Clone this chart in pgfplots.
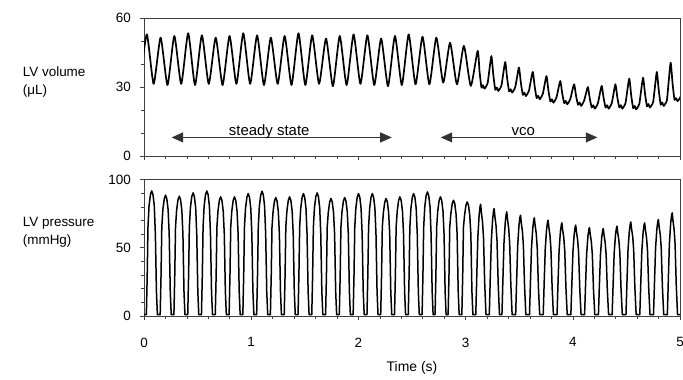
\documentclass[border=0pt]{standalone}
\usepackage{pgfplots}
\pgfplotsset{compat=1.18}
\usepackage{fontspec}
\setmainfont{Liberation Sans}
\usetikzlibrary{arrows.meta}
\pgfplotsset{
  lvstyle/.style={
    scale only axis, width=536bp,
    xmin=0, xmax=5,
    xtick={0,1,2,3,4,5}, minor x tick num=4,
    axis line style={black!75, line width=0.8bp},
    tick style={black!75, line width=0.6bp},
    tick align=outside, xtick pos=left, ytick pos=left,
    major tick length=4bp, minor tick length=3bp,
    /pgf/number format/assume math mode=true,
    ticklabel style={font=\fontsize{13.5}{16}\selectfont},
    yticklabel shift=4.5bp,
    clip=true,
  },
  trace/.style={black, line width=1.5bp, line join=round, mark=none},
}
\begin{document}
\fontsize{13.5}{16}\selectfont%
\begin{tikzpicture}
\useasboundingbox (0,0) rectangle (683bp,-380bp);
% ---------------- LV volume ----------------
\begin{axis}[lvstyle, at={(144bp,-18.3bp)}, anchor=north west,
  height=138bp, ymin=0, ymax=60, ytick={0,30,60}, minor y tick num=2,
  xticklabels={}]
\addplot[trace, line width=1.7bp, smooth, tension=0.35] coordinates {
(-0.038,31.5)
(0.026,53.0) (0.090,31.5)
(0.155,51.6) (0.219,31.0)
(0.283,52.3) (0.347,31.5)
(0.412,53.5) (0.476,31.0)
(0.540,52.6) (0.604,31.5)
(0.669,51.6) (0.733,31.0)
(0.798,52.3) (0.862,31.5)
(0.926,53.5) (0.990,31.5)
(1.055,52.6) (1.119,31.0)
(1.183,51.6) (1.247,31.5)
(1.312,52.3) (1.376,31.0)
(1.441,53.5) (1.505,31.0)
(1.569,52.6) (1.633,31.5)
(1.698,51.2) (1.762,30.5)
(1.826,52.3) (1.890,31.0)
(1.955,53.0) (2.019,31.5)
(2.084,52.6) (2.148,31.0)
(2.212,51.2) (2.276,30.5)
(2.341,52.3) (2.405,31.0)
(2.469,53.0) (2.533,31.3)
(2.598,52.0) (2.662,31.3)
(2.727,51.6) (2.791,32.0)
(2.855,49.4) (2.919,31.3)
(2.984,48.0) (3.048,30.6)
(3.112,45.8) (3.130,36.8) (3.148,29.9) (3.162,30.9) (3.176,29.4) (3.191,30.4) (3.206,31.9) (3.223,38.0)
(3.241,43.6) (3.259,35.2) (3.277,28.9) (3.291,29.9) (3.305,28.4) (3.320,29.4) (3.335,30.9) (3.352,36.2)
(3.370,41.0) (3.388,33.7) (3.406,28.2) (3.420,29.2) (3.434,27.7) (3.449,28.7) (3.464,30.2) (3.481,34.7)
(3.498,38.6) (3.516,31.8) (3.534,26.7) (3.548,27.7) (3.562,26.2) (3.577,27.2) (3.592,28.7) (3.609,33.0)
(3.627,36.7) (3.645,30.2) (3.663,25.3) (3.677,26.3) (3.691,24.8) (3.706,25.8) (3.721,27.3) (3.738,31.4)
(3.755,34.9) (3.773,28.5) (3.791,23.8) (3.805,24.8) (3.819,23.3) (3.834,24.3) (3.849,25.8) (3.866,29.5)
(3.884,32.7) (3.902,27.2) (3.920,23.1) (3.934,24.1) (3.948,22.6) (3.963,23.6) (3.978,25.1) (3.995,28.5)
(4.013,31.3) (4.031,26.1) (4.049,22.4) (4.063,23.4) (4.077,21.9) (4.092,22.9) (4.107,24.4) (4.124,27.5)
(4.141,30.1) (4.159,24.9) (4.177,21.2) (4.191,22.2) (4.205,20.7) (4.220,21.7) (4.235,23.2) (4.252,27.2)
(4.270,30.6) (4.288,25.2) (4.306,21.2) (4.320,22.2) (4.334,20.7) (4.349,21.7) (4.364,23.2) (4.381,27.5)
(4.398,31.3) (4.416,25.5) (4.434,21.2) (4.448,22.2) (4.462,20.7) (4.477,21.7) (4.492,23.2) (4.509,28.8)
(4.527,33.8) (4.545,26.4) (4.563,20.9) (4.577,21.9) (4.591,20.4) (4.606,21.4) (4.621,22.9) (4.638,28.8)
(4.656,34.2) (4.674,27.1) (4.692,21.7) (4.706,22.7) (4.720,21.2) (4.735,22.2) (4.750,23.7) (4.767,30.5)
(4.784,36.7) (4.802,28.6) (4.820,22.4) (4.834,23.4) (4.848,21.9) (4.863,22.9) (4.878,24.4) (4.895,32.8)
(4.913,40.7) (4.931,31.5) (4.949,24.5) (4.963,25.3) (4.977,24.0) (4.992,24.8) (5.007,26.0)
};
\draw[black!80, line width=1bp, {Triangle[length=11.5bp,width=10bp]}-{Triangle[length=11.5bp,width=10bp]}]
  (axis cs:0.258,8.2) -- (axis cs:2.311,8.2);
\draw[black!80, line width=1bp, {Triangle[length=11.5bp,width=10bp]}-{Triangle[length=11.5bp,width=10bp]}]
  (axis cs:2.768,8.2) -- (axis cs:4.229,8.2);
\node[anchor=base, inner sep=0pt, font=\fontsize{15}{18}\selectfont] at (axis cs:1.168,9.0) {steady state};
\node[anchor=base, inner sep=0pt, font=\fontsize{15}{18}\selectfont] at (axis cs:3.538,9.0) {vco};
\end{axis}
% ---------------- LV pressure ----------------
\begin{axis}[lvstyle, at={(144bp,-179.5bp)}, anchor=north west,
  height=136.5bp, ymin=0, ymax=100, ytick={0,50,100}, minor y tick num=4,
  xticklabel shift=13bp]
\addplot[trace] coordinates {
(0,1)
(0.022,1) (0.030,30) (0.037,65) (0.047,80.6) (0.060,88.9) (0.072,91.6) (0.084,88.9) (0.096,80.6) (0.106,60) (0.116,18) (0.125,1)
(0.151,1) (0.159,30) (0.166,65) (0.176,77.9) (0.189,85.8) (0.201,88.5) (0.213,85.8) (0.225,77.9) (0.235,60) (0.245,18) (0.254,1)
(0.279,1) (0.287,30) (0.294,65) (0.304,77.3) (0.317,85.2) (0.329,87.8) (0.341,85.2) (0.353,77.3) (0.363,60) (0.373,18) (0.382,1)
(0.408,1) (0.416,30) (0.423,65) (0.433,79.4) (0.446,87.5) (0.458,90.2) (0.470,87.5) (0.482,79.4) (0.492,60) (0.502,18) (0.511,1)
(0.536,1) (0.544,30) (0.551,65) (0.561,80.6) (0.574,88.9) (0.586,91.6) (0.598,88.9) (0.610,80.6) (0.620,60) (0.630,18) (0.639,1)
(0.665,1) (0.673,30) (0.680,65) (0.690,76.8) (0.703,84.7) (0.715,87.3) (0.727,84.7) (0.739,76.8) (0.749,60) (0.759,18) (0.768,1)
(0.794,1) (0.802,30) (0.809,65) (0.819,76.8) (0.832,84.7) (0.844,87.3) (0.856,84.7) (0.868,76.8) (0.878,60) (0.888,18) (0.897,1)
(0.922,1) (0.930,30) (0.937,65) (0.947,78.9) (0.960,87.0) (0.972,89.7) (0.984,87.0) (0.996,78.9) (1.006,60) (1.016,18) (1.025,1)
(1.051,1) (1.059,30) (1.066,65) (1.076,80.4) (1.089,88.7) (1.101,91.4) (1.113,88.7) (1.125,80.4) (1.135,60) (1.145,18) (1.154,1)
(1.179,1) (1.187,30) (1.194,65) (1.204,76.4) (1.217,84.2) (1.229,86.8) (1.241,84.2) (1.253,76.4) (1.263,60) (1.273,18) (1.282,1)
(1.308,1) (1.316,30) (1.323,65) (1.333,76.8) (1.346,84.7) (1.358,87.3) (1.370,84.7) (1.382,76.8) (1.392,60) (1.402,18) (1.411,1)
(1.437,1) (1.445,30) (1.452,65) (1.462,78.9) (1.475,87.0) (1.487,89.7) (1.499,87.0) (1.511,78.9) (1.521,60) (1.531,18) (1.540,1)
(1.565,1) (1.573,30) (1.580,65) (1.590,79.4) (1.603,87.5) (1.615,90.2) (1.627,87.5) (1.639,79.4) (1.649,60) (1.659,18) (1.668,1)
(1.694,1) (1.702,30) (1.709,65) (1.719,75.8) (1.732,83.5) (1.744,86.1) (1.756,83.5) (1.768,75.8) (1.778,60) (1.788,18) (1.797,1)
(1.822,1) (1.830,30) (1.837,65) (1.847,76.4) (1.860,84.2) (1.872,86.8) (1.884,84.2) (1.896,76.4) (1.906,60) (1.916,18) (1.925,1)
(1.951,1) (1.959,30) (1.966,65) (1.976,78.9) (1.989,87.0) (2.001,89.7) (2.013,87.0) (2.025,78.9) (2.035,60) (2.045,18) (2.054,1)
(2.080,1) (2.088,30) (2.095,65) (2.105,78.9) (2.118,87.0) (2.130,89.7) (2.142,87.0) (2.154,78.9) (2.164,60) (2.174,18) (2.183,1)
(2.208,1) (2.216,30) (2.223,65) (2.233,75.8) (2.246,83.5) (2.258,86.1) (2.270,83.5) (2.282,75.8) (2.292,60) (2.302,18) (2.311,1)
(2.337,1) (2.345,30) (2.352,65) (2.362,76.8) (2.375,84.7) (2.387,87.3) (2.399,84.7) (2.411,76.8) (2.421,60) (2.431,18) (2.440,1)
(2.465,1) (2.473,30) (2.480,65) (2.490,78.9) (2.503,87.0) (2.515,89.7) (2.527,87.0) (2.539,78.9) (2.549,60) (2.559,18) (2.568,1)
(2.594,1) (2.602,30) (2.609,65) (2.619,80.0) (2.632,88.2) (2.644,90.9) (2.656,88.2) (2.668,80.0) (2.678,60) (2.688,18) (2.697,1)
(2.715,1) (2.723,30) (2.730,65) (2.740,76.8) (2.753,84.7) (2.765,87.3) (2.777,84.7) (2.789,76.8) (2.799,60) (2.809,18) (2.818,1)
(2.837,1) (2.845,30) (2.852,65) (2.862,74.6) (2.875,82.3) (2.887,84.8) (2.899,82.3) (2.911,74.6) (2.921,60) (2.931,18) (2.940,1)
(2.965,1) (2.973,30) (2.980,65) (2.990,73.6) (3.003,81.1) (3.015,83.6) (3.027,81.1) (3.039,73.6) (3.049,60) (3.059,18) (3.068,1)
(3.095,1) (3.104,28.7) (3.114,57.3) (3.126,73.7) (3.135,80.3) (3.140,81.9) (3.148,75.3) (3.158,68.8) (3.167,57.3) (3.178,24.6) (3.190,1)
(3.221,1) (3.230,27.5) (3.240,55.1) (3.252,70.8) (3.261,77.1) (3.266,78.7) (3.274,72.4) (3.284,66.1) (3.293,55.1) (3.304,23.6) (3.316,1)
(3.339,1) (3.348,26.7) (3.358,53.4) (3.370,68.7) (3.379,74.8) (3.384,76.3) (3.392,70.2) (3.402,64.1) (3.411,53.4) (3.422,22.9) (3.434,1)
(3.467,1) (3.476,25.8) (3.486,51.7) (3.498,66.4) (3.507,72.3) (3.512,73.8) (3.520,67.9) (3.530,62.0) (3.539,51.7) (3.550,22.1) (3.562,1)
(3.596,1) (3.605,25.2) (3.615,50.3) (3.627,64.7) (3.636,70.5) (3.641,71.9) (3.649,66.1) (3.659,60.4) (3.668,50.3) (3.679,21.6) (3.691,1)
(3.724,1) (3.733,24.6) (3.743,49.1) (3.755,63.2) (3.764,68.8) (3.769,70.2) (3.777,64.6) (3.787,59.0) (3.796,49.1) (3.807,21.1) (3.819,1)
(3.853,1) (3.862,23.9) (3.872,47.7) (3.884,61.4) (3.893,66.8) (3.898,68.2) (3.906,62.7) (3.916,57.3) (3.925,47.7) (3.936,20.5) (3.948,1)
(3.982,1) (3.991,23.3) (4.001,46.6) (4.013,59.9) (4.022,65.2) (4.027,66.5) (4.035,61.2) (4.045,55.9) (4.054,46.6) (4.065,20.0) (4.077,1)
(4.110,1) (4.119,22.7) (4.129,45.4) (4.141,58.3) (4.150,63.5) (4.155,64.8) (4.163,59.6) (4.173,54.4) (4.182,45.4) (4.193,19.4) (4.205,1)
(4.239,1) (4.248,22.4) (4.258,44.9) (4.270,57.7) (4.279,62.8) (4.284,64.1) (4.292,59.0) (4.302,53.8) (4.311,44.9) (4.322,19.2) (4.334,1)
(4.367,1) (4.376,23.0) (4.386,46.1) (4.398,59.2) (4.407,64.5) (4.412,65.8) (4.420,60.5) (4.430,55.3) (4.439,46.1) (4.450,19.7) (4.462,1)
(4.496,1) (4.505,24.1) (4.515,48.2) (4.527,62.0) (4.536,67.5) (4.541,68.9) (4.549,63.4) (4.559,57.9) (4.568,48.2) (4.579,20.7) (4.591,1)
(4.625,1) (4.634,23.9) (4.644,47.7) (4.656,61.4) (4.665,66.8) (4.670,68.2) (4.678,62.7) (4.688,57.3) (4.697,47.7) (4.708,20.5) (4.720,1)
(4.753,1) (4.762,24.7) (4.772,49.5) (4.784,63.6) (4.793,69.3) (4.798,70.7) (4.806,65.0) (4.816,59.4) (4.825,49.5) (4.836,21.2) (4.848,1)
(4.882,1) (4.891,26.4) (4.901,52.9) (4.913,68.0) (4.922,74.0) (4.927,75.5) (4.935,69.5) (4.945,63.4) (4.954,52.9) (4.965,22.7) (4.977,1)
(5.0,1)
};
\end{axis}
\node[anchor=west, align=left, inner sep=0pt, font=\fontsize{13.5}{18}\selectfont] at (22.7bp,-81.7bp) {LV volume\\(μL)};
\node[anchor=west, align=left, inner sep=0pt, font=\fontsize{13.5}{18}\selectfont] at (22.7bp,-232.5bp) {LV pressure\\(mmHg)};
\node[font=\fontsize{14}{17}\selectfont] at (412bp,-368bp) {Time (s)};
\end{tikzpicture}%
\end{document}
